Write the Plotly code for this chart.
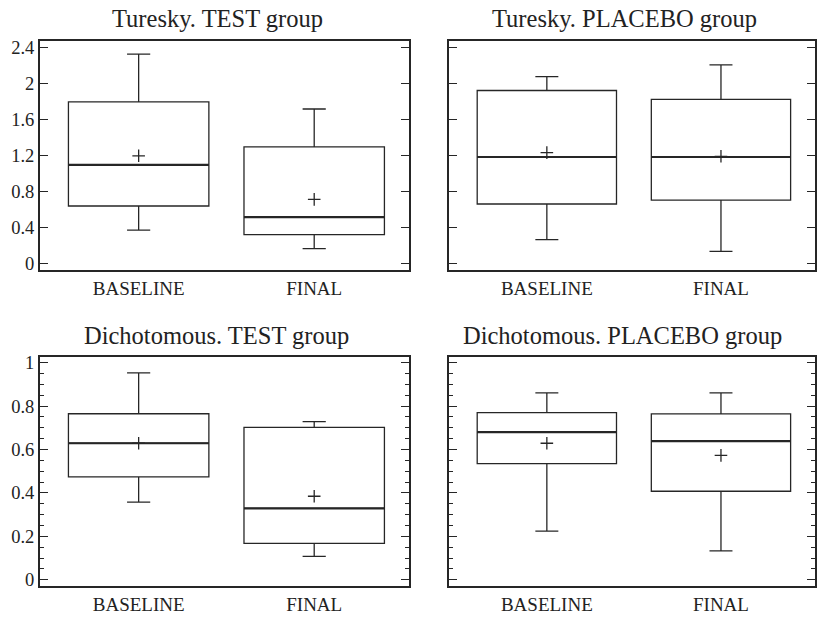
import plotly.graph_objects as go

# ---------------- data ----------------
categories = ["BASELINE", "FINAL"]
cat_pos = [0, 1]

titles = ["Turesky. TEST group", "Turesky. PLACEBO group",
          "Dichotomous. TEST group", "Dichotomous. PLACEBO group"]

# Turesky TEST
tt_low = [0.376, 0.17]
tt_q1 = [0.643, 0.325]
tt_med = [1.10, 0.52]
tt_q3 = [1.80, 1.30]
tt_up = [2.33, 1.72]
tt_mean = [1.20, 0.716]

# Turesky PLACEBO
tp_low = [0.27, 0.139]
tp_q1 = [0.665, 0.709]
tp_med = [1.187, 1.187]
tp_q3 = [1.925, 1.826]
tp_up = [2.08, 2.21]
tp_mean = [1.235, 1.195]

# Dichotomous TEST
dt_low = [0.358, 0.108]
dt_q1 = [0.474, 0.168]
dt_med = [0.629, 0.329]
dt_q3 = [0.765, 0.702]
dt_up = [0.953, 0.729]
dt_mean = [0.629, 0.385]

# Dichotomous PLACEBO
dp_low = [0.224, 0.133]
dp_q1 = [0.535, 0.408]
dp_med = [0.680, 0.639]
dp_q3 = [0.770, 0.764]
dp_up = [0.861, 0.861]
dp_mean = [0.629, 0.573]

turesky_ticks = [0, 0.4, 0.8, 1.2, 1.6, 2, 2.4]
turesky_ticktext = ["0", "0.4", "0.8", "1.2", "1.6", "2", "2.4"]
dich_ticks = [0, 0.2, 0.4, 0.6, 0.8, 1]
dich_ticktext = ["0", "0.2", "0.4", "0.6", "0.8", "1"]

panels = [
    (tt_low, tt_q1, tt_med, tt_q3, tt_up, tt_mean),
    (tp_low, tp_q1, tp_med, tp_q3, tp_up, tp_mean),
    (dt_low, dt_q1, dt_med, dt_q3, dt_up, dt_mean),
    (dp_low, dp_q1, dp_med, dp_q3, dp_up, dp_mean),
]

# ---------------- style ----------------
W, H = 817, 617
LINE = "#262626"
FONT = "Liberation Serif"
BOX_W = 0.8

x_domains = [[40 / W, 410 / W], [450 / W, 1.0]]
y_domains = [[(H - 270) / H, (H - 37) / H], [(H - 590) / H, (H - 357.7) / H]]

fig = go.Figure()

for i, (low, q1, med, q3, up, mean) in enumerate(panels):
    ax = "" if i == 0 else str(i + 1)
    xref, yref = "x" + ax, "y" + ax
    fig.add_trace(go.Box(
        x=cat_pos, q1=q1, median=med, q3=q3, lowerfence=low, upperfence=up,
        width=BOX_W, whiskerwidth=0.165, boxpoints=False,
        fillcolor="rgba(0,0,0,0)", line=dict(color=LINE, width=1.3),
        xaxis=xref, yaxis=yref, showlegend=False, hoverinfo="skip",
    ))
    # thicker median line
    mx, my = [], []
    for p, m in zip(cat_pos, med):
        mx += [p - BOX_W / 2, p + BOX_W / 2, None]
        my += [m, m, None]
    fig.add_trace(go.Scatter(
        x=mx, y=my, mode="lines", line=dict(color=LINE, width=2.2),
        xaxis=xref, yaxis=yref, showlegend=False, hoverinfo="skip",
    ))
    # mean cross
    fig.add_trace(go.Scatter(
        x=cat_pos, y=mean, mode="markers",
        marker=dict(symbol="cross-thin", size=9, line=dict(color=LINE, width=1.3)),
        xaxis=xref, yaxis=yref, showlegend=False, hoverinfo="skip",
    ))

layout = dict(
    width=W, height=H, margin=dict(l=0, r=0, t=0, b=0),
    paper_bgcolor="white", plot_bgcolor="white",
    font=dict(family=FONT, color="#222222"),
    showlegend=False,
)

title_pos = [(218, 15), (626, 15), (217, 336), (624, 336)]
annotations = []
for i in range(4):
    ax = "" if i == 0 else str(i + 1)
    col = i % 2
    row = i // 2
    top = row == 0
    layout["xaxis" + ax] = dict(
        domain=x_domains[col], anchor="y" + ax, range=[-0.5625, 1.54],
        tickvals=cat_pos, ticktext=categories, ticks="",
        showline=True, linecolor=LINE, linewidth=1.7, mirror=True,
        showgrid=False, zeroline=False, fixedrange=True,
        tickfont=dict(size=19, family=FONT, color="#222222"),
    )
    ydict = dict(
        domain=y_domains[row], anchor="x" + ax,
        showline=True, linecolor=LINE, linewidth=1.7, mirror="ticks",
        ticks="inside", ticklen=8, tickwidth=1.3, tickcolor=LINE,
        showgrid=False, zeroline=False, fixedrange=True,
        showticklabels=(col == 0),
        tickfont=dict(size=18.5, family=FONT, color="#222222"),
    )
    if top:
        ydict.update(range=[-0.073, 2.48], tickvals=turesky_ticks, ticktext=turesky_ticktext)
    else:
        ydict.update(range=[-0.030, 1.026], tickvals=dich_ticks, ticktext=dich_ticktext,
                     minor=dict(dtick=0.05, tick0=0, ticks="inside", ticklen=4,
                                tickwidth=1.2, tickcolor=LINE, showgrid=False))
    layout["yaxis" + ax] = ydict
    tx, ty = title_pos[i]
    annotations.append(dict(
        text=titles[i], x=tx / W, y=1 - ty / H, xref="paper", yref="paper",
        xanchor="center", yanchor="middle", showarrow=False,
        font=dict(size=24.5, family=FONT, color="#222222"),
    ))
layout["annotations"] = annotations
fig.update_layout(**layout)

fig.write_html("out.html", config={"displayModeBar": False},
               post_script="document.body.style.margin='0';")
